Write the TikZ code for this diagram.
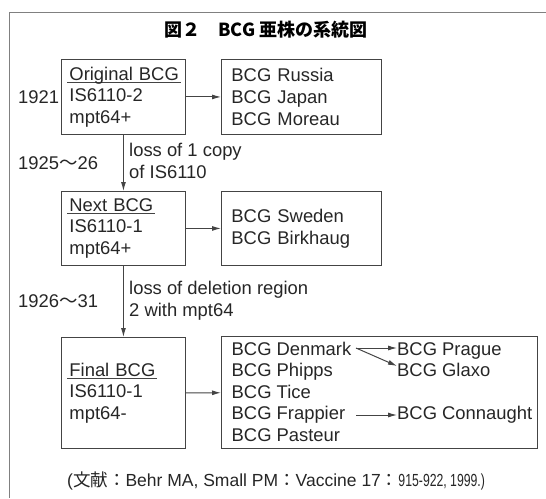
\documentclass[tikz,border=0pt]{standalone}
\usepackage{fontspec}
\usepackage{graphicx}
\setmainfont{Liberation Sans}
\newfontfamily\cjk{Noto Sans CJK JP}
\usetikzlibrary{arrows.meta}
\definecolor{linegray}{HTML}{444444}
\definecolor{framegray}{HTML}{808080}
\newsavebox\headbox
\newcommand{\strainhead}[1]{\sbox\headbox{#1}\makebox[0pt][l]{\kern-2pt\color{linegray}\rule[-2.6pt]{\dimexpr\wd\headbox+4pt\relax}{1.1pt}}\usebox\headbox}
\newcommand{\wave}{{\cjk 〜}}

\begin{document}
\begin{tikzpicture}[x=1pt,y=-1pt,
  txt/.style={font=\fontsize{18.4}{21.6}\selectfont,text=black!85},
  box/.style={txt,draw=linegray,line width=0.9pt,rectangle,anchor=north west,align=left,inner xsep=0pt},
  lbox/.style={box,minimum width=124pt,text width=108pt},
  rbox/.style={box,minimum width=160pt,text width=140pt},
  lab/.style={txt,anchor=base west,inner sep=0pt},
  arr/.style={draw=linegray,line width=1pt,-{Latex[length=9pt,width=5pt]}}]
\useasboundingbox (0,0) rectangle (546,498);
\draw[framegray,line width=1.8pt] (546,12.5) -- (9.5,12.5) -- (9.5,498);
\node[font=\cjk\bfseries\fontsize{18}{18}\selectfont,anchor=base] (title) at (266,36) {図２　BCG 亜株の系統図};
% strain boxes
\node[lbox,minimum height=75pt] (orig) at (61,59) {\strainhead{Original BCG}\\IS6110-2\\mpt64+};
\node[rbox,minimum height=75pt] (first) at (221,59) {BCG Russia\\BCG Japan\\BCG Moreau};
\node[lbox,minimum height=74pt] (next) at (61,191) {\strainhead{Next BCG}\\IS6110-1\\mpt64+};
\node[rbox,minimum height=74pt] (second) at (221,191) {BCG Sweden\\BCG Birkhaug};
\node[lbox,minimum height=111pt] (final) at (61,337) {\strainhead{Final BCG}\\IS6110-1\\mpt64-};
\node[box,minimum width=316pt,minimum height=112pt] (third) at (221,336) {};
% strains of the last group
\node[lab] (denmark) at (231.5,355) {BCG Denmark};
\node[lab] (phipps) at (231.5,376.6) {BCG Phipps};
\node[lab] (tice) at (231.5,398.2) {BCG Tice};
\node[lab] (frappier) at (231.5,419.8) {BCG Frappier};
\node[lab] (pasteur) at (231.5,441.4) {BCG Pasteur};
\node[lab] (prague) at (397,355) {BCG Prague};
\node[lab] (glaxo) at (397,376.6) {BCG Glaxo};
\node[lab] (connaught) at (397,419.8) {BCG Connaught};
\coordinate (dsplit) at (356,348);
\coordinate (fstart) at (356,415);
% years and events
\node[lab] (y1921) at (18,103) {1921};
\node[lab] (y1925) at (18,169) {1925\wave 26};
\node[lab] (y1926) at (18,307) {1926\wave 31};
\node[lab,align=left] (ev1) at (129,178.5) {loss of 1 copy\\of IS6110};
\node[lab,align=left] (ev2) at (129,316.5) {loss of deletion region\\2 with mpt64};
\draw[arr] (orig) -- (first);
\draw[arr] (next) -- (second);
\draw[arr] (final) -- (third);
\draw[arr] (orig) -- (next);
\draw[arr] (next) -- (final);
\draw[arr] (dsplit) -- (dsplit -| prague.west);
\draw[arr] (dsplit) -- (glaxo.west |- 0,366);
\draw[arr] (fstart) -- (fstart -| connaught.west);
\node[lab,font=\fontsize{17.5}{20}\selectfont] (cite) at (67,486) {({\cjk 文献：}Behr MA, Small PM{\cjk ：}Vaccine 17{\cjk ：}\scalebox{0.7}[1]{915-922, 1999.)}};
\end{tikzpicture}
\end{document}
